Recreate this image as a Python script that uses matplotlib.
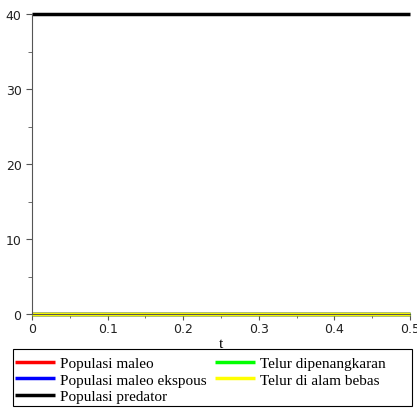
import matplotlib
matplotlib.use("Agg")
import matplotlib.pyplot as plt
from matplotlib.ticker import MultipleLocator
from matplotlib.patches import Rectangle

t = [0.0, 0.5]
populasi_maleo = [0.0, 0.0]
populasi_maleo_ekspous = [0.0, 0.0]
populasi_predator = [40.0, 40.0]
telur_dipenangkaran = [0.0, 0.0]
telur_alam_bebas = [0.0, 0.0]

labels = ["Populasi maleo", "Populasi maleo ekspous", "Populasi predator",
          "Telur dipenangkaran", "Telur di alam bebas"]
colors = ["#ff0000", "#0000ff", "#000000", "#00ff00", "#ffff00"]
series = [populasi_maleo, populasi_maleo_ekspous, populasi_predator,
          telur_dipenangkaran, telur_alam_bebas]
xticks = [0, 0.1, 0.2, 0.3, 0.4, 0.5]
xticklabels = ["0", "0.1", "0.2", "0.3", "0.4", "0.5"]
yticks = [0, 10, 20, 30, 40]
yticklabels = ["0", "10", "20", "30", "40"]

fig = plt.figure(figsize=(4.17, 4.10), dpi=100)
ax = fig.add_axes([32/417, 1-315/410, (410-32)/417, 300/410])

handles = []
for y, c, lab in zip(series, colors, labels):
    h, = ax.plot(t, y, color=c, lw=2.5, label=lab, clip_on=False, solid_capstyle='butt')
    handles.append(h)
ax.set_xlim(0, 0.5)
ax.set_ylim(0, 40)
for s in ["top", "right"]:
    ax.spines[s].set_visible(False)
for s in ["left", "bottom"]:
    ax.spines[s].set_color("#555555")
    ax.spines[s].set_linewidth(0.8)
ax.set_xticks(xticks)
ax.set_xticklabels(xticklabels, family="DejaVu Sans")
ax.set_yticks(yticks)
ax.set_yticklabels(yticklabels, family="DejaVu Sans")
ax.xaxis.set_minor_locator(MultipleLocator(0.05))
ax.yaxis.set_minor_locator(MultipleLocator(5))
ax.tick_params(which="both", direction="out", color="#555555", labelsize=9, labelcolor="#222222")
ax.tick_params(axis="x", pad=2)
ax.tick_params(which="major", length=4)
ax.tick_params(which="minor", length=3)
ax.set_xlabel("t", family="Liberation Serif", fontsize=11, labelpad=1)

leg = fig.legend(handles, labels, ncol=2, loc="upper left",
                 bbox_to_anchor=(13/417, 1-355/410),
                 prop={"family": "Liberation Serif", "size": 11},
                 frameon=False,
                 handlelength=2.6, handletextpad=0.3, labelspacing=0.2,
                 borderpad=0.15, borderaxespad=0, columnspacing=0.6)
fig.patches.append(Rectangle((13/417, 1-407/410), 399/417, 57/410,
                             transform=fig.transFigure, fill=False,
                             edgecolor="black", linewidth=0.8))

fig.savefig("out.png", dpi=100)
